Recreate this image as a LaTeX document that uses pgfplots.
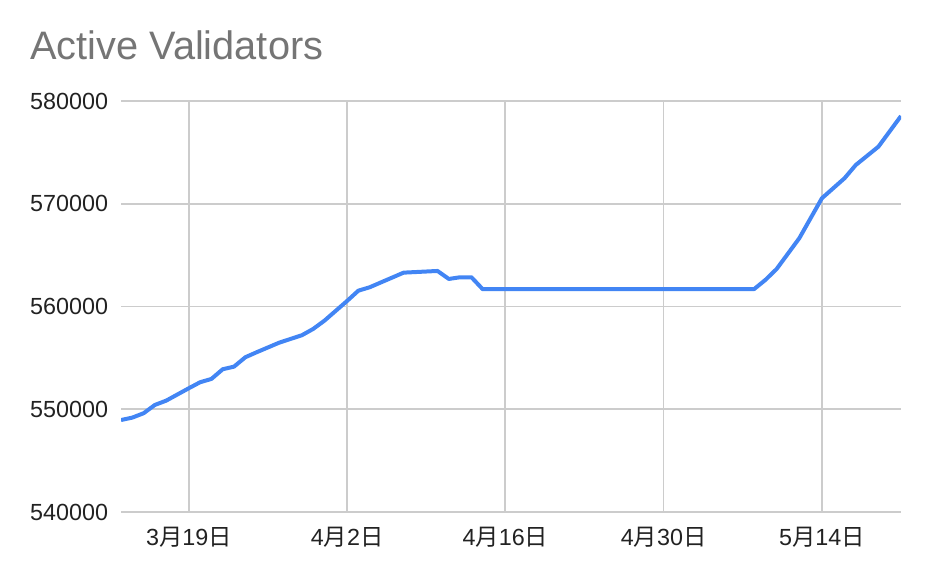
\documentclass[border=0pt]{standalone}
\usepackage{fontspec}
\setmainfont{Liberation Sans}
\newfontfamily\cjk{Noto Sans CJK JP}
\usepackage{pgfplots}
\pgfplotsset{compat=1.18}
\definecolor{linecol}{HTML}{4285F4}
\definecolor{gridcol}{HTML}{CCCCCC}
\definecolor{titlecol}{HTML}{757575}
\definecolor{labcol}{HTML}{222222}
\begin{document}
\begin{tikzpicture}
\path[use as bounding box] (0pt,0pt) rectangle (697.5pt,432.75pt);
\node[anchor=base west, inner sep=0pt, text=titlecol, font=\fontsize{29.8}{34}\selectfont] at (22.5pt,387.75pt) {Active Validators};
\begin{axis}[
  at={(90.75pt,48.75pt)}, anchor=south west,
  scale only axis, width=585pt, height=308.25pt,
  xmin=-6, xmax=63, ymin=540000, ymax=580000,
  xtick={0,14,28,42,56},
  xticklabels={3{\cjk 月}19{\cjk 日},4{\cjk 月}2{\cjk 日},4{\cjk 月}16{\cjk 日},4{\cjk 月}30{\cjk 日},5{\cjk 月}14{\cjk 日}},
  ytick={540000,550000,560000,570000,580000},
  grid=major, major grid style={gridcol, line width=1.3pt},
  axis line style={draw=none}, major tick length=0pt,
  scaled y ticks=false,
  /pgf/number format/assume math mode=true,
  yticklabel style={/pgf/number format/fixed, /pgf/number format/1000 sep={}, inner sep=0pt, anchor=east, xshift=-9.5pt},
  xticklabel style={inner sep=0pt, anchor=north, yshift=-11pt},
  ticklabel style={font=\fontsize{17.5}{20}\selectfont, text=labcol},
]
\addplot[linecol, line width=3pt, line join=round] coordinates {
(-6,548950) (-5,549185) (-4,549613) (-3,550421) (-2,550839) (0,552045) (1,552630) (2,552951) (3,553894) (4,554147) (5,555062) (6,555548) (8,556482) (10,557203) (11,557816) (12,558624) (14,560540) (15,561542) (16,561873) (19,563294) (22,563459) (23,562681) (24,562846) (25,562846) (26,561679) (50,561690) (51,562583) (52,563654) (54,566641) (56,570533) (58,572479) (59,573773) (61,575553) (63,578540)
};
\end{axis}
\end{tikzpicture}
\end{document}
